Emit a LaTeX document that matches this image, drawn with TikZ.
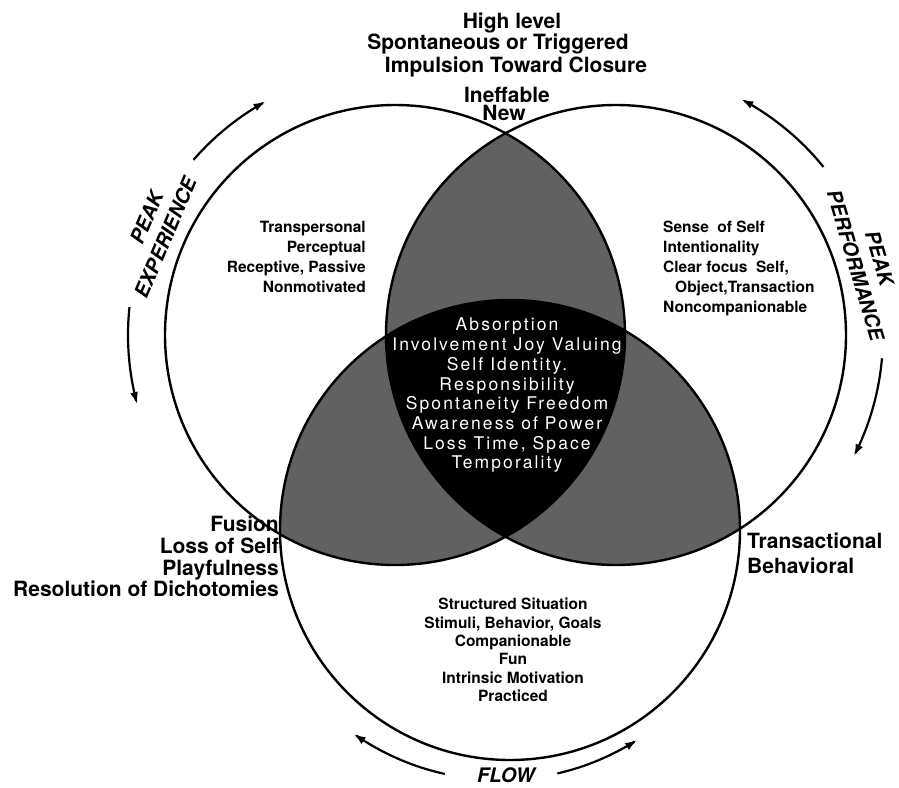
\documentclass[tikz,border=0pt]{standalone}
\usepackage{fontspec}
\setmainfont{TeX Gyre Heros}
\newfontfamily\midfont[LetterSpace=12]{TeX Gyre Heros}
\usetikzlibrary{arrows.meta,calc}
\begin{document}
\begin{tikzpicture}[x=1pt,y=-1pt,
  ring/.style={line width=2.4pt},
  halftone/.style={fill=black!62},
  arcarrow/.style={line width=2.2pt,-{Latex[length=12pt,width=8pt]}},
  big/.style={font=\fontsize{21}{23}\selectfont\bfseries, inner sep=0pt},
  small/.style={font=\fontsize{15.5}{20}\selectfont\bfseries, inner sep=0pt},
  side/.style={font=\fontsize{20}{25}\selectfont\bfseries\itshape, inner sep=0pt, align=center},
  mid/.style={font=\fontsize{17.5}{19.7}\selectfont\midfont, text=white, inner sep=0pt, align=center}
]
\fill[white] (0,0) rectangle (899,787);
\useasboundingbox (0,0) rectangle (899,787);
\coordinate (cL) at (395,335);
\coordinate (cR) at (616,335);
\coordinate (cB) at (510,530);
% shaded overlaps
\begin{scope}
  \clip (cL) circle[radius=230];
  \fill[halftone] (cR) circle[radius=230];
  \fill[halftone] (cB) circle[radius=230];
\end{scope}
\begin{scope}
  \clip (cR) circle[radius=230];
  \fill[halftone] (cB) circle[radius=230];
\end{scope}
\begin{scope}
  \clip (cL) circle[radius=230];
  \clip (cR) circle[radius=230];
  \fill[black] (cB) circle[radius=230];
\end{scope}
\draw[ring] (cL) circle[radius=230] (cR) circle[radius=230] (cB) circle[radius=230];
% outer arrows
\draw[arcarrow] plot[domain=-139:-119,samples=30] ({395+267*cos(\x)},{335+267*sin(\x)});
\draw[arcarrow] plot[domain=-174:-195,samples=30] ({395+267*cos(\x)},{335+267*sin(\x)});
\draw[arcarrow] plot[domain=-39:-62,samples=30] ({616+267*cos(\x)},{335+267*sin(\x)});
\draw[arcarrow] plot[domain=5:27,samples=30] ({616+267*cos(\x)},{335+267*sin(\x)});
\draw[arcarrow] plot[domain=102.5:125,samples=30] ({500+255*cos(\x)},{525+255*sin(\x)});
\draw[arcarrow] plot[domain=77:57.5,samples=30] ({500+255*cos(\x)},{525+255*sin(\x)});
% top text
\node[big, anchor=base] (hl) at (512,28) {High level};
\node[big, anchor=base] (st) at (498,49) {Spontaneous or Triggered};
\node[big, anchor=base] (im) at (516,72) {Impulsion Toward Closure};
\node[big, anchor=base] (ie) at (507,102) {Ineffable};
\node[big, anchor=base] (nw) at (504,120) {New};
% inner texts
\node[small, anchor=north east, align=right] (pe) at (366,221)
  {Transpersonal\\Perceptual\\Receptive, Passive\\Nonmotivated};
\node[small, anchor=north west, align=left] (pp) at (663,221)
  {Sense\ \ of Self\\Intentionality\\Clear focus\ \ Self,\\\hspace*{12pt}Object,Transaction\\Noncompanionable};
\node[small, font=\fontsize{15.5}{18.4}\selectfont\bfseries, anchor=north, align=center] (fl) at (513,598)
  {Structured Situation\\Stimuli, Behavior, Goals\\Companionable\\Fun\\Intrinsic Motivation\\Practiced};
\node[big, font=\fontsize{21}{21.7}\selectfont\bfseries, anchor=north east, align=right] (fu) at (279,516)
  {Fusion\\Loss of Self\\Playfulness\\Resolution of Dichotomies};
\node[big, font=\fontsize{21}{25}\selectfont\bfseries, anchor=north west, align=left] (tr) at (747,533)
  {Transactional\\Behavioral};
\node[mid, anchor=north] (ab) at (507,318)
  {Absorption\\Involvement Joy Valuing\\Self Identity.\\Responsibility\\Spontaneity Freedom\\Awareness of Power\\Loss Time, Space\\Temporality};
% arc labels
\node[side, rotate=67] (pex) at ($(cL)+(-157:262)$) {\hspace*{22pt}PEAK\\EXPERIENCE};
\node[side, rotate=-73.5] (ppf) at ($(cR)+(-16.2:262)$) {PEAK\\PERFORMANCE};
\node[side, anchor=base] (flow) at (506,782) {FLOW};
\end{tikzpicture}
\end{document}
